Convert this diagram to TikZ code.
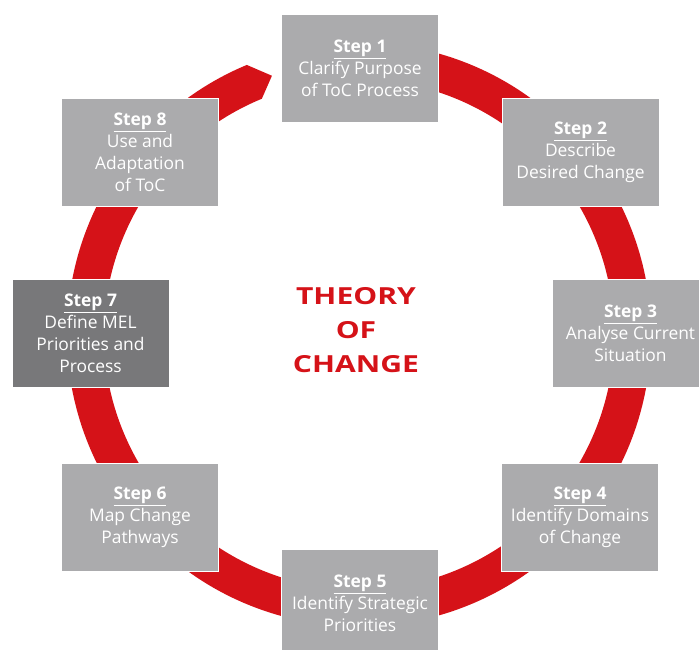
\documentclass[tikz,border=0pt]{standalone}
\usepackage{fontspec}
\setmainfont{Open Sans}
\newfontfamily\titlefont[FakeStretch=1.28]{Open Sans}
\definecolor{tocred}{RGB}{213,18,24}
\definecolor{boxgrey}{RGB}{171,171,173}
\definecolor{boxdark}{RGB}{120,120,122}
\newcommand{\stephead}[1]{\underline{\textbf{Step #1}}}
\begin{document}
\begin{tikzpicture}[x=1pt,y=1pt,
  stepbox/.style={fill=boxgrey, draw=white, line width=0.8pt,
    minimum width=157pt, minimum height=108pt, text=white,
    align=center, inner sep=0pt,
    font=\fontsize{17.4}{22}\selectfont},
  darkbox/.style={stepbox, fill=boxdark},
  ring/.style={fill=tocred},
  title/.style={text=tocred, align=center,
    font=\titlefont\bfseries\fontsize{23.5}{34}\selectfont}
]
\useasboundingbox (0,0) rectangle (699,650);
\clip (0,0) rectangle (699,650);
% ring with pointed end
\begin{scope}[shift={(359,315.5)}]
\fill[ring] (80:292) arc[start angle=80, end angle=-247.4, radius=292]
  -- (-251.4:273) -- (-247.6:255)
  arc[start angle=-247.6, end angle=80, radius=255] -- cycle;
\end{scope}
% boxes
\node[stepbox] (s1) at (360,582) {\stephead{1}\\Clarify Purpose\\of ToC Process};
\node[stepbox] (s2) at (580.5,497.5) {\stephead{2}\\Describe\\Desired Change};
\node[stepbox] (s3) at (630.5,317) {\stephead{3}\\Analyse Current\\Situation};
\node[stepbox] (s4) at (580,132.5) {\stephead{4}\\Identify Domains\\of Change};
\node[stepbox] (s5) at (360,47) {\stephead{5}\\Identify Strategic\\Priorities};
\node[stepbox] (s6) at (140,132.5) {\stephead{6}\\Map Change\\Pathways};
\node[darkbox] (s7) at (90.5,317) {\stephead{7}\\Define MEL\\Priorities and\\Process};
\node[stepbox] (s8) at (140,497.5) {\stephead{8}\\Use and\\Adaptation\\of ToC};
% title
\node[title] (t) at (356,320) {THEORY\\OF\\CHANGE};
\end{tikzpicture}
\end{document}
